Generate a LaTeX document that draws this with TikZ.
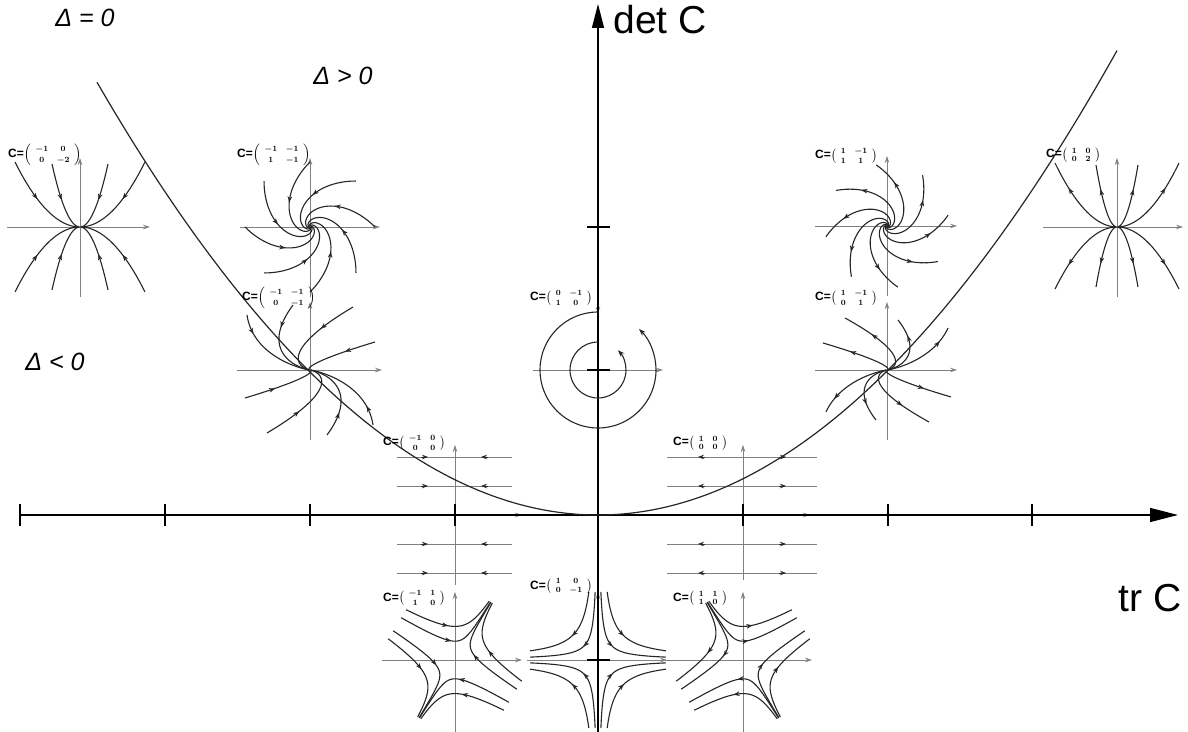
\documentclass[tikz,border=0pt]{standalone}
\usepackage{amsmath}
\usepackage{fontspec}
\setmainfont{Liberation Sans}
\usetikzlibrary{arrows.meta}

\newcommand{\cmat}[4]{\textbf{C=}{\boldmath$\left(\,\begin{smallmatrix}#1&\;\;#2\\[2pt]#3&\;\;#4\end{smallmatrix}\,\right)$}}

% saddle: #1 la, #2 e1x, #3 e1y, #4 lb, #5 e2x, #6 e2y
\newcommand{\saddleplot}[6]{%
 \foreach \su in {1,-1}{\foreach \sv in {1,-1}{\foreach \cc in {14,25}{%
   \pgfmathsetmacro{\tA}{ln(68/\cc)/(#4)}%
   \pgfmathsetmacro{\tB}{ln(68/\cc)/(#1)}%
   \draw[traj] plot[domain=\tA:\tB,samples=40,smooth,variable=\t]
     ({(\su)*\cc*exp((#1)*(\t))*(#2)+(\sv)*\cc*exp((#4)*(\t))*(#5)},
      {(\su)*\cc*exp((#1)*(\t))*(#3)+(\sv)*\cc*exp((#4)*(\t))*(#6)});
   \draw[tip] plot[domain=-0.03:0.03,samples=2,variable=\t]
     ({(\su)*\cc*exp((#1)*(\t))*(#2)+(\sv)*\cc*exp((#4)*(\t))*(#5)},
      {(\su)*\cc*exp((#1)*(\t))*(#3)+(\sv)*\cc*exp((#4)*(\t))*(#6)});
 }}}}

\begin{document}
\begin{tikzpicture}[x=1pt,y=1pt,
  traj/.style={draw=black!85,line width=1.1pt},
  tip/.style={draw=black!85,line width=0.2pt,-{Stealth[length=6pt,width=4.5pt]}},
  paxis/.style={draw=black!50,line width=0.7pt,-{Stealth[length=7pt,width=4.5pt]}},
  hflow/.style={draw=black!50,line width=0.7pt},
  flowtip/.style={draw=black!85,line width=0.7pt,-{Stealth[length=6pt,width=4.5pt]}},
  mainax/.style={draw=black,line width=1.3pt},
  clab/.style={anchor=west,inner sep=0pt,font=\fontsize{12}{14}\selectfont},
  dlab/.style={font=\fontsize{25}{30}\selectfont\itshape},
  axlab/.style={font=\fontsize{39}{44}\selectfont}
]
\useasboundingbox[fill=white] (0,0) rectangle (1188,731);

\coordinate (O) at (598,216);
\coordinate (c1) at (80,504);
\coordinate (c2) at (310,504);
\coordinate (c3) at (310,361);
\coordinate (c4) at (455,216);
\coordinate (c5) at (455,71);
\coordinate (c6) at (598,71);
\coordinate (c7) at (598,361);
\coordinate (c8) at (743,216);
\coordinate (c9) at (743,71);
\coordinate (c10) at (887,505);
\coordinate (c11) at (887,361);
\coordinate (c12) at (1117,504);

% ---------- portrait axes ----------
\begin{scope}[shift={(c1)}]
 \draw[paxis] (-73,0) -- (70,0); \draw[paxis] (0,-70) -- (0,69);
\end{scope}
\begin{scope}[shift={(c2)}]
 \draw[paxis] (-70,0) -- (70,0); \draw[paxis] (0,-70) -- (0,69);
\end{scope}
\begin{scope}[shift={(c3)}]
 \draw[paxis] (-73,0) -- (72,0); \draw[paxis] (0,-70) -- (0,68);
\end{scope}
\begin{scope}[shift={(c4)}]
 \draw[paxis] (-60,0) -- (67,0); \draw[paxis] (0,-70) -- (0,70);
 \foreach \dy in {58,29,-29,-58}{
   \draw[hflow] (-58,\dy) -- (57,\dy);
   \draw[flowtip] (-34,\dy) -- (-27,\dy);
   \draw[flowtip] (33,\dy) -- (26,\dy);
 }
\end{scope}
\begin{scope}[shift={(c5)}]
 \draw[paxis] (-73,0) -- (67,0); \draw[paxis] (0,-75) -- (0,68);
\end{scope}
\begin{scope}[shift={(c6)}]
 \draw[paxis] (-71,0) -- (69,0); \draw[paxis] (0,-75) -- (0,68);
\end{scope}
\begin{scope}[shift={(c7)}]
 \draw[paxis] (-65,0) -- (65,0); \draw[paxis] (0,-70) -- (0,67);
\end{scope}
\begin{scope}[shift={(c8)}]
 \draw[paxis] (-73,0) -- (67,0); \draw[paxis] (0,-65) -- (0,70);
 \foreach \dy in {58,29,-29,-58}{
   \draw[hflow] (-76,\dy) -- (74,\dy);
   \draw[flowtip] (-38,\dy) -- (-45,\dy);
   \draw[flowtip] (36,\dy) -- (43,\dy);
 }
\end{scope}
\begin{scope}[shift={(c9)}]
 \draw[paxis] (-78,0) -- (69,0); \draw[paxis] (0,-75) -- (0,68);
\end{scope}
\begin{scope}[shift={(c10)}]
 \draw[paxis] (-72,0) -- (70,0); \draw[paxis] (0,-70) -- (0,70);
\end{scope}
\begin{scope}[shift={(c11)}]
 \draw[paxis] (-72,0) -- (70,0); \draw[paxis] (0,-70) -- (0,68);
\end{scope}
\begin{scope}[shift={(c12)}]
 \draw[paxis] (-74,0) -- (66,0); \draw[paxis] (0,-70) -- (0,69);
\end{scope}

% ---------- main axes ----------
\draw[mainax,-{Triangle[length=28pt,width=14pt]}] (20,216) -- (1178,216);
\draw[mainax,-{Triangle[length=24pt,width=12pt]}] (598,-2) -- (598,727);
\foreach \tx in {20,165,310,455,743,888,1032}
  \draw[mainax] (\tx,205) -- (\tx,227);
\foreach \ty in {504,361,71}
  \draw[mainax] (587,\ty) -- (610,\ty);

% ---------- parabola Delta = 0 ----------
\draw[line width=1.2pt,black!85] plot[domain=97:1117,samples=200,smooth,variable=\x]
  ({\x},{216+((\x-598)/24.083)^2});

% ---------- trajectories ----------
% 1: stable node diag(-1,-2)
\begin{scope}[shift={(c1)}]
 \foreach \a/\b in {65/65,-65/65,65/-65,-65/-65,28/63,-28/63,28/-63,-28/-63}{
  \draw[traj] plot[domain=0:4,samples=50,smooth,variable=\t]
   ({(\a)*exp(-(\t))},{(\b)*exp(-2*(\t))});
  \draw[tip] plot[domain=0.38:0.42,samples=2,variable=\t]
   ({(\a)*exp(-(\t))},{(\b)*exp(-2*(\t))});
 }
\end{scope}
% 12: unstable node diag(1,2)
\begin{scope}[shift={(c12)}]
 \foreach \a/\b in {62/64,-62/64,62/-62,-62/-62,21/62,-21/62,21/-60,-21/-60}{
  \draw[traj] plot[domain=-4:0,samples=50,smooth,variable=\t]
   ({(\a)*exp(\t)},{(\b)*exp(2*(\t))});
  \draw[tip] plot[domain=-0.29:-0.25,samples=2,variable=\t]
   ({(\a)*exp(\t)},{(\b)*exp(2*(\t))});
 }
\end{scope}
% 2: stable spiral
\begin{scope}[shift={(c2)}]
 \foreach \th in {0,45,...,315}{
  \draw[traj] plot[domain=0:4.5,samples=80,smooth,variable=\t]
   ({65*exp(-(\t))*cos(\th+57.2958*(\t))},{65*exp(-(\t))*sin(\th+57.2958*(\t))});
  \draw[tip] plot[domain=0.66:0.7,samples=2,variable=\t]
   ({65*exp(-(\t))*cos(\th+57.2958*(\t))},{65*exp(-(\t))*sin(\th+57.2958*(\t))});
 }
\end{scope}
% 10: unstable spiral
\begin{scope}[shift={(c10)}]
 \foreach \th in {10,55,...,325}{
  \draw[traj] plot[domain=-4.5:0,samples=80,smooth,variable=\t]
   ({62*exp(\t)*cos(\th+57.2958*(\t))},{62*exp(\t)*sin(\th+57.2958*(\t))});
  \draw[tip] plot[domain=-0.38:-0.34,samples=2,variable=\t]
   ({62*exp(\t)*cos(\th+57.2958*(\t))},{62*exp(\t)*sin(\th+57.2958*(\t))});
 }
\end{scope}
% 3: stable degenerate node
\begin{scope}[shift={(c3)}]
 \foreach \a/\b in {43/63,65/28,17/-65,63/-55,-43/-63,-65/-28,-17/65,-63/55}{
  \draw[traj] plot[domain=0:6,samples=80,smooth,variable=\t]
   ({((\a)-(\b)*(\t))*exp(-(\t))},{(\b)*exp(-(\t))});
  \draw[tip] plot[domain=0.38:0.42,samples=2,variable=\t]
   ({((\a)-(\b)*(\t))*exp(-(\t))},{(\b)*exp(-(\t))});
 }
\end{scope}
% 11: unstable degenerate node
\begin{scope}[shift={(c11)}]
 \foreach \a/\b in {-42/52,-64/27,11/50,61/42,42/-52,64/-27,-11/-50,-61/-42}{
  \draw[traj] plot[domain=-6:0,samples=80,smooth,variable=\t]
   ({((\a)-(\b)*(\t))*exp(\t)},{(\b)*exp(\t)});
  \draw[tip] plot[domain=-0.42:-0.38,samples=2,variable=\t]
   ({((\a)-(\b)*(\t))*exp(\t)},{(\b)*exp(\t)});
 }
\end{scope}
% 7: centre
\begin{scope}[shift={(c7)}]
 \draw[traj,-{Stealth[length=7pt,width=5pt]}] (90:28) arc[start angle=90,end angle=405,radius=28];
 \draw[traj,-{Stealth[length=7pt,width=5pt]}] (90:58) arc[start angle=90,end angle=405,radius=58];
\end{scope}
% saddles
\begin{scope}[shift={(c5)}]
 \saddleplot{0.618}{0.526}{0.851}{-1.618}{0.851}{-0.526}
\end{scope}
\begin{scope}[shift={(c6)}]
 \saddleplot{1}{1}{0}{-1}{0}{1}
\end{scope}
\begin{scope}[shift={(c9)}]
 \saddleplot{1.618}{0.851}{0.526}{-0.618}{0.526}{-0.851}
\end{scope}

% ---------- labels ----------
\node[clab] (l1) at (8,576) {\cmat{-1}{0}{0}{-2}};
\node[clab] (l2) at (237,576) {\cmat{-1}{-1}{1}{-1}};
\node[clab] (l3) at (242,433) {\cmat{-1}{-1}{0}{-1}};
\node[clab] (l4) at (383,288) {\cmat{-1}{0}{0}{0}};
\node[clab] (l5) at (383,133) {\cmat{-1}{1}{1}{0}};
\node[clab] (l6) at (530,145) {\cmat{1}{0}{0}{-1}};
\node[clab] (l7) at (530,433) {\cmat{0}{-1}{1}{0}};
\node[clab] (l8) at (673,288) {\cmat{1}{0}{0}{0}};
\node[clab] (l9) at (673,133) {\cmat{1}{1}{1}{0}};
\node[clab] (l10) at (815,575) {\cmat{1}{-1}{1}{1}};
\node[clab] (l11) at (815,433) {\cmat{1}{-1}{0}{1}};
\node[clab] (l12) at (1046,576) {\cmat{1}{0}{0}{2}};

\node[dlab] (d0) at (85,713) {Δ = 0};
\node[dlab] (dp) at (343,655) {Δ > 0};
\node[dlab] (dm) at (55,369) {Δ < 0};

\node[axlab,anchor=west] (det) at (610,711) {det C};
\node[axlab] (tr) at (1150,133) {tr C};
\end{tikzpicture}
\end{document}
